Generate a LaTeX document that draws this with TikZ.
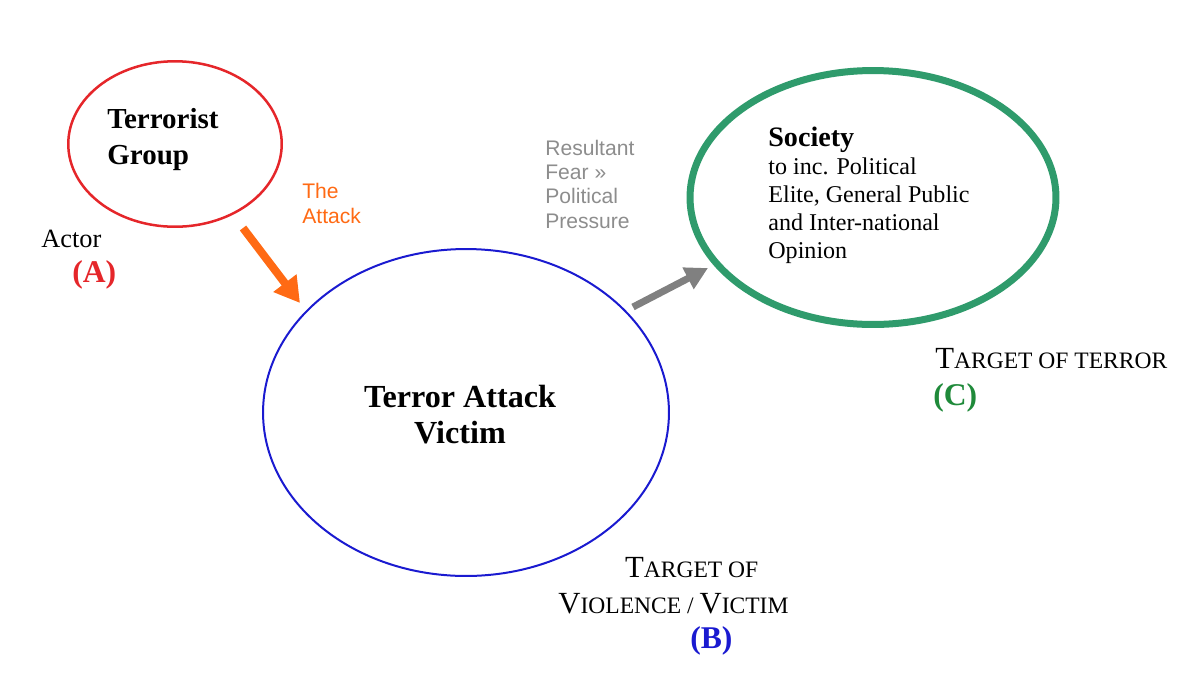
\documentclass[tikz,border=0pt]{standalone}
\usepackage{fontspec}
\setmainfont{Liberation Serif}
\newfontfamily\arialfont{Liberation Sans}
\usetikzlibrary{shapes.geometric,arrows.meta}

\definecolor{groupred}{HTML}{E5262A}
\definecolor{victimblue}{HTML}{1A1AD0}
\definecolor{societygreen}{HTML}{2F9B6C}
\definecolor{lettergreen}{HTML}{1F8A3A}
\definecolor{attackorange}{HTML}{FF6A14}
\definecolor{feargray}{HTML}{808080}

% big first letter, small capitals after it
\newcommand{\tcap}[2]{{\fontsize{17.5}{20.4}\selectfont #1}{\fontsize{13.4}{20.4}\selectfont #2}}

\begin{document}
\begin{tikzpicture}[x=0.02cm, y=-0.02cm]
		\useasboundingbox (0,0) rectangle (1200,684);

		\node [ellipse, draw=groupred, line width=0.05cm, minimum width=4.27cm, minimum height=3.31cm] (group) at (175,144) {};
		\node [ellipse, draw=victimblue, line width=0.04cm, minimum width=8.12cm, minimum height=6.54cm] (victim) at (466,412.5) {};
		\node [ellipse, draw=societygreen, line width=0.14cm, minimum width=7.32cm, minimum height=5.08cm] (society) at (873,197.5) {};

		% multi-line texts sit on the baseline of their last line
		\node [anchor=base west, inner sep=0, align=left, font={\fontsize{16.5}{20.4}\selectfont\bfseries}] (grouptext) at (107,164) {Terrorist\\Group};
		\node [anchor=base, inner sep=0, align=center, font={\fontsize{18.3}{20.4}\selectfont\bfseries}] (victimtext) at (460,443) {Terror Attack\\Victim};
		\node [anchor=base west, inner sep=0, align=left, font={\fontsize{13.7}{15.9}\selectfont}] (societytext) at (768,258) {{\fontsize{16}{15.9}\selectfont\bfseries Society}\\to inc. Political\\Elite, General Public\\and Inter-national\\Opinion};

		\node [anchor=base west, inner sep=0, font={\fontsize{15}{18}\selectfont}] (actor) at (41,247) {Actor};
		\node [anchor=base west, inner sep=0, text=groupred, font={\fontsize{18}{20}\selectfont\bfseries}] (letterA) at (72,282) {(A)};
		\node [anchor=base west, inner sep=0, align=left, font={\fontsize{13.4}{20.4}\selectfont}] (targetB) at (558,613) {\hspace*{38pt}\tcap{T}{ARGET OF}\\\tcap{V}{IOLENCE / }\tcap{V}{ICTIM}};
		\node [anchor=base west, inner sep=0, text=victimblue, font={\fontsize{18}{20}\selectfont\bfseries}] (letterB) at (690,648) {(B)};
		\node [anchor=base west, inner sep=0] (targetC) at (935,368) {\tcap{T}{ARGET OF TERROR}};
		\node [anchor=base west, inner sep=0, text=lettergreen, font={\fontsize{18}{20}\selectfont\bfseries}] (letterC) at (933,405) {(C)};

		\node [anchor=base west, inner sep=0, align=left, text=attackorange, font={\arialfont\fontsize{12}{14.2}\selectfont}] (attacklabel) at (302,223) {The\\Attack};
		\node [anchor=base west, inner sep=0, align=left, text=feargray!90, font={\arialfont\fontsize{12}{13.8}\selectfont}] (fearlabel) at (545,228) {Resultant\\Fear »\\Political\\Pressure};

		\coordinate (attacktail) at (243,228);
		\coordinate (attacktip) at (300,303);
		\coordinate (feartail) at (633,307);
		\coordinate (feartip) at (708,268);

		\draw [line width=0.16cm, attackorange, -{Triangle[length=0.5cm, width=0.55cm]}] (attacktail) -- (attacktip);
		\draw [line width=0.14cm, feargray, -{Triangle[length=0.45cm, width=0.46cm]}] (feartail) -- (feartip);
	\end{tikzpicture}
\end{document}
